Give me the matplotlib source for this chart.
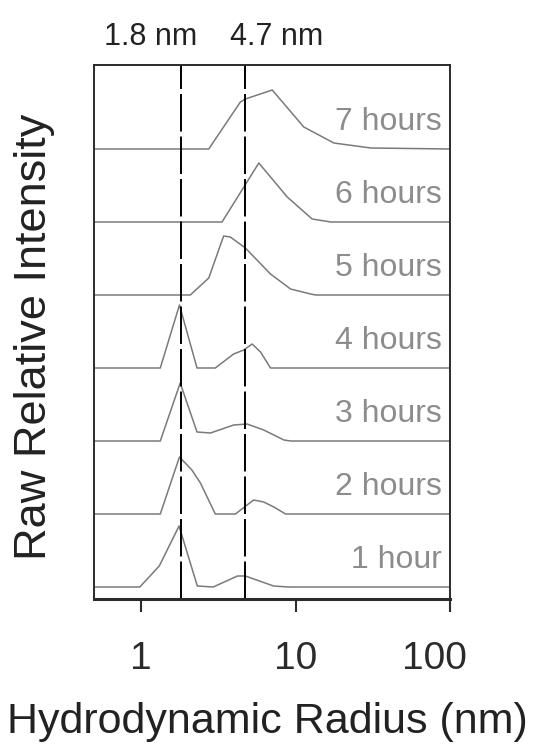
import matplotlib
matplotlib.use("Agg")
import matplotlib.pyplot as plt
from matplotlib.transforms import ScaledTranslation

plt.rcParams["font.family"] = ["Liberation Sans", "DejaVu Sans"]
plt.rcParams["lines.scale_dashes"] = False

# DLS size distributions (radius in nm, raw intensity)
hours = ["1 hour", "2 hours", "3 hours", "4 hours", "5 hours", "6 hours", "7 hours"]

radius_1h = [0.5, 0.98, 1.31, 1.76, 2.31, 2.93, 4.2, 4.73, 7.2, 9.0, 100]
int_1h = [0, 0, 21, 61, 1, 0, 11, 11, 1, 0, 0]

radius_2h = [0.5, 1.33, 1.77, 2.13, 2.42, 3.02, 4.08, 4.85, 5.36, 6.22, 7.23, 8.61, 100]
int_2h = [0, 0, 57, 44, 31, 0, 0, 9, 14, 12, 7, 0, 0]

radius_3h = [0.5, 1.33, 1.79, 2.30, 2.81, 3.97, 4.85, 6.22, 8.40, 9.28, 100]
int_3h = [0, 0, 58, 9, 8, 16, 17, 11, 1, 0, 0]

radius_4h = [0.5, 1.33, 1.77, 2.30, 3.02, 3.97, 4.62, 5.23, 5.93, 6.88, 100]
int_4h = [0, 0, 63, 0, 0, 14, 18, 24, 16, 0, 0]

radius_5h = [0.5, 2.08, 2.74, 3.42, 3.78, 4.73, 6.88, 9.28, 12.5, 13.5, 100]
int_5h = [0, 0, 17, 59, 58, 47, 21, 6, 1, 0, 0]

radius_6h = [0.5, 3.34, 5.78, 8.83, 12.8, 16.9, 100]
int_6h = [0, 0, 59, 25, 3, 0, 0]

radius_7h = [0.5, 2.74, 4.39, 4.73, 7.06, 11.3, 17.7, 30.7, 100]
int_7h = [0, 0, 47, 50, 59, 22, 6, 1, 0]

peak_radii = [1.8, 4.7]
peak_labels = ["1.8 nm", "4.7 nm"]

xticks = [1, 10, 100]
xticklabels = ["1", "10", "100"]

series = [(radius_1h, int_1h), (radius_2h, int_2h), (radius_3h, int_3h),
          (radius_4h, int_4h), (radius_5h, int_5h), (radius_6h, int_6h),
          (radius_7h, int_7h)]

LINE = "#7a7a7a"
TXT = "#8c8c8c"
FRAME = "#2b2b2b"
BASE, STEP = 12, 73  # stacking offset of each trace

fig = plt.figure(figsize=(5.35, 7.49), dpi=100)
ax = fig.add_axes([94 / 535, 1 - 599 / 749, 356 / 535, 534 / 749])

for i, ((r, y), lab) in enumerate(zip(series, hours)):
    off = BASE + STEP * i
    ax.plot(r, [v + off for v in y], color=LINE, lw=1.1)
    ax.text(88, off + 27, lab, ha="right", va="center", fontsize=23, color=TXT)

for r in peak_radii:
    ax.axvline(r, color="black", lw=1.4, dashes=(27, 3.6))

ax.set_xscale("log")
ax.set_xlim(0.495, 100)
ax.set_ylim(0, 534)
ax.set_xticks(xticks)
ax.set_xticklabels(xticklabels, fontsize=28)
ax.minorticks_off()
ax.set_yticks([])
ax.tick_params(axis="x", direction="out", length=9, width=1.5, pad=21, colors=FRAME)
# the "100" label sits a little left of its tick in the original
last = ax.get_xticklabels()[-1]
last.set_transform(last.get_transform() + ScaledTranslation(-0.16, 0, fig.dpi_scale_trans))
for s in ax.spines.values():
    s.set_color(FRAME)
    s.set_linewidth(1.4)
ax.spines["bottom"].set_linewidth(2.2)

for r, lab in zip([151 / 535, 277 / 535], peak_labels):
    fig.text(r, 1 - 37 / 749, lab, ha="center", va="center", fontsize=22, color="#222222")

fig.text(0.5, 1 - 722 / 749, "Hydrodynamic Radius (nm)", ha="center", va="center",
         fontsize=31, color="#222222")
fig.text(35 / 535, 1 - 337 / 749, "Raw Relative Intensity", ha="center", va="center",
         rotation=90, fontsize=32.5, color="#222222")

fig.savefig("out.png", dpi=100)
